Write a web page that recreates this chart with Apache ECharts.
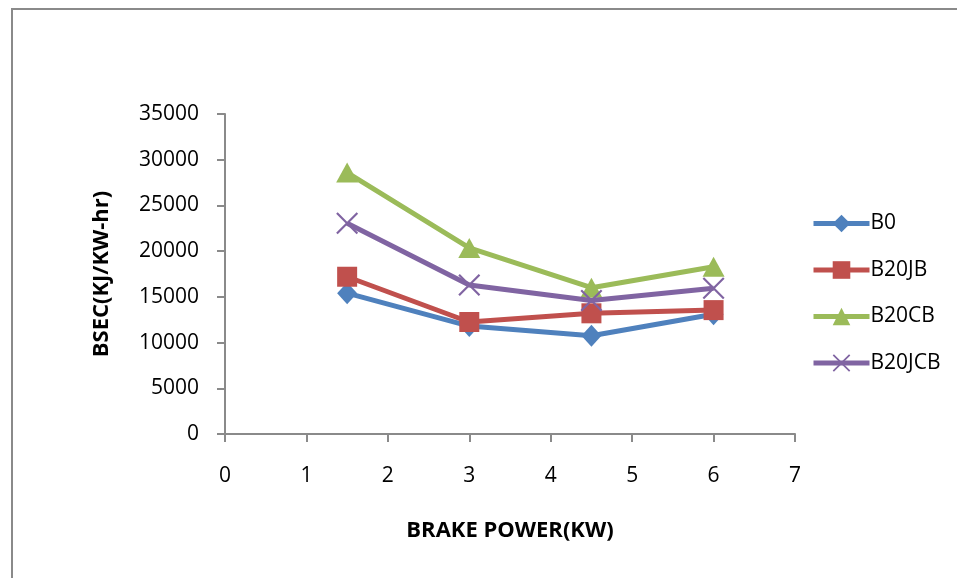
<!DOCTYPE html>
<html><head><meta charset="utf-8">
<script src="https://cdn.jsdelivr.net/npm/echarts@6/dist/echarts.min.js"></script>
<style>html,body{margin:0;padding:0;background:#fff}#c{width:957px;height:578px}</style>
</head><body><div id="c"></div>
<script>
const xValues = [1.5, 3, 4.5, 6];
const seriesNames = ['B0', 'B20JB', 'B20CB', 'B20JCB'];
const b0 = [15400, 11800, 10750, 13100];
const b20jb = [17200, 12250, 13200, 13550];
const b20cb = [28600, 20350, 16000, 18300];
const b20jcb = [23050, 16300, 14600, 15950];
const xTicks = [0, 1, 2, 3, 4, 5, 6, 7];
const yTicks = [0, 5000, 10000, 15000, 20000, 25000, 30000, 35000];

const colors = ['#4F81BD', '#C0504D', '#9BBB59', '#8064A2'];
const xPath = 'path://M0,1.4 L1.4,0 L10,8.6 L18.6,0 L20,1.4 L11.4,10 L20,18.6 L18.6,20 L10,11.4 L1.4,20 L0,18.6 L8.6,10 Z';
const symbols = ['diamond', 'rect', 'triangle', xPath];
const sizes = [[20, 22], [20, 20], [22, 20], [22, 22]];
const allData = [b0, b20jb, b20cb, b20jcb];
const font = '"Open Sans", "Noto Sans", sans-serif';

const chart = echarts.init(document.getElementById('c'));
chart.setOption({
  animation: false,
  backgroundColor: '#fff',
  graphic: [{
    type: 'polyline',
    shape: { points: [[12, 600], [12, 9], [970, 9]] },
    style: { stroke: '#8a8a8a', lineWidth: 2, fill: null }
  }],
  grid: { left: 225, right: 162, top: 114, bottom: 144 },
  legend: {
    orient: 'vertical', left: 806, top: 208, itemGap: 25.5, itemWidth: 56, itemHeight: 22,
    lineStyle: { width: 5 },
    textStyle: { fontFamily: font, fontSize: 21, color: '#000', padding: [0, 0, 0, -4] },
    data: seriesNames
  },
  xAxis: {
    type: 'value', min: 0, max: 7, interval: 1,
    name: 'BRAKE POWER(KW)', nameLocation: 'middle', nameGap: 86,
    nameTextStyle: { fontFamily: font, fontSize: 22, fontWeight: 'bold', color: '#000' },
    axisLine: { lineStyle: { color: '#8a8a8a', width: 2 } },
    axisTick: { show: true, length: 8, lineStyle: { color: '#8a8a8a', width: 2 } },
    axisLabel: { fontFamily: font, fontSize: 21, color: '#000', margin: 32,
      formatter: v => xTicks.includes(v) ? String(v) : '' },
    splitLine: { show: false }
  },
  yAxis: {
    type: 'value', min: 0, max: 35000, interval: 5000,
    name: 'BSEC(KJ/KW-hr)', nameLocation: 'middle', nameGap: 112, nameRotate: 90,
    nameTextStyle: { fontFamily: font, fontSize: 22, fontWeight: 'bold', color: '#000' },
    axisLine: { show: true, lineStyle: { color: '#8a8a8a', width: 2 } },
    axisTick: { show: true, length: 8, lineStyle: { color: '#8a8a8a', width: 2 } },
    axisLabel: { fontFamily: font, fontSize: 21, color: '#000', margin: 26,
      formatter: v => yTicks.includes(v) ? String(v) : '' },
    splitLine: { show: false }
  },
  series: seriesNames.map((n, i) => ({
    name: n, type: 'line',
    data: xValues.map((x, j) => [x, allData[i][j]]),
    symbol: symbols[i], symbolSize: sizes[i], showAllSymbol: true,
    lineStyle: { color: colors[i], width: 5 },
    itemStyle: { color: colors[i] },
    z: 2 + i
  }))
});
</script></body></html>
